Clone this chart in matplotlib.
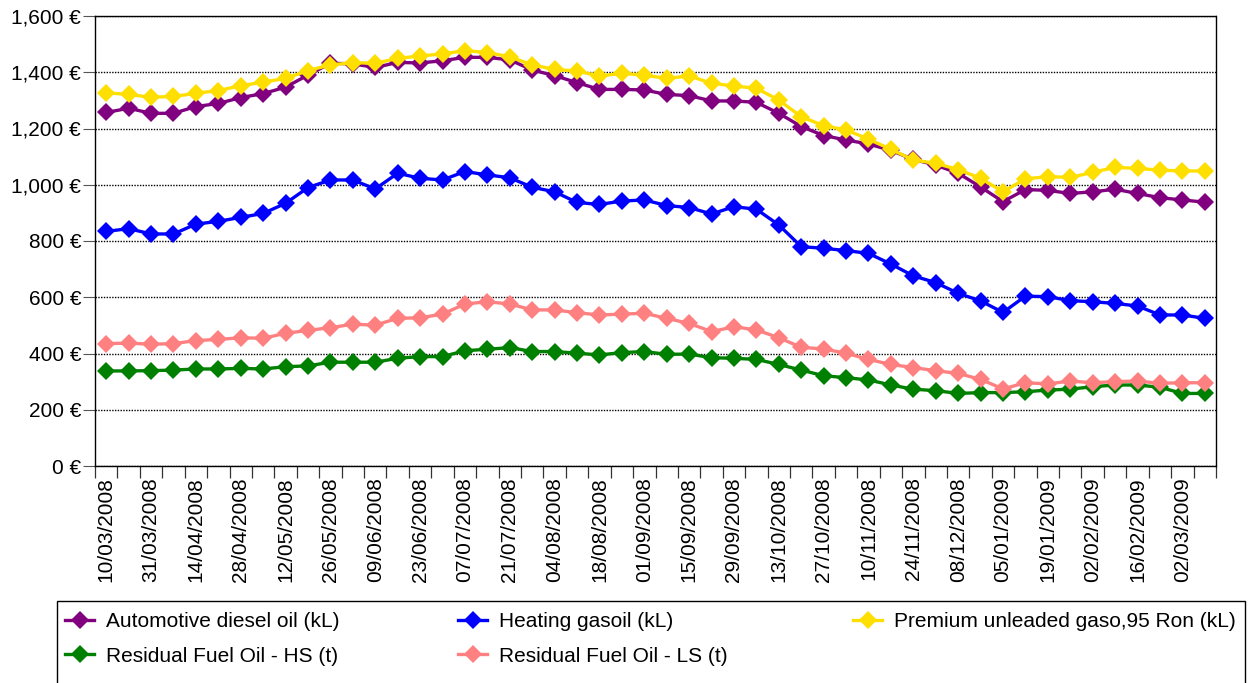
import matplotlib
matplotlib.use('Agg')
import matplotlib.pyplot as plt
from matplotlib.lines import Line2D
from matplotlib.patches import Rectangle
from matplotlib.ticker import FuncFormatter
import numpy as np

plt.rcParams['font.family'] = ['Liberation Sans', 'DejaVu Sans']

# weekly price dates (categories)
dates = ['10/03/2008', '17/03/2008', '31/03/2008', '07/04/2008', '14/04/2008', '21/04/2008',
         '28/04/2008', '05/05/2008', '12/05/2008', '19/05/2008', '26/05/2008', '02/06/2008',
         '09/06/2008', '16/06/2008', '23/06/2008', '30/06/2008', '07/07/2008', '14/07/2008',
         '21/07/2008', '28/07/2008', '04/08/2008', '11/08/2008', '18/08/2008', '25/08/2008',
         '01/09/2008', '08/09/2008', '15/09/2008', '22/09/2008', '29/09/2008', '06/10/2008',
         '13/10/2008', '20/10/2008', '27/10/2008', '03/11/2008', '10/11/2008', '17/11/2008',
         '24/11/2008', '01/12/2008', '08/12/2008', '15/12/2008', '05/01/2009', '12/01/2009',
         '19/01/2009', '26/01/2009', '02/02/2009', '09/02/2009', '16/02/2009', '23/02/2009',
         '02/03/2009', '09/03/2009']

# prices in euro
diesel = [1257, 1272, 1254, 1254, 1278, 1289, 1310, 1324, 1347, 1390,
          1432, 1430, 1417, 1435, 1433, 1441, 1453, 1453, 1444, 1408,
          1388, 1363, 1339, 1339, 1337, 1321, 1317, 1298, 1298, 1293,
          1254, 1207, 1175, 1159, 1145, 1122, 1090, 1070, 1041, 992,
          940, 983, 980, 969, 975, 984, 969, 954, 946, 938]
heating = [834, 844, 825, 825, 860, 870, 884, 898, 934, 990,
           1017, 1017, 985, 1041, 1023, 1017, 1047, 1035, 1025, 991,
           975, 937, 930, 942, 946, 926, 919, 896, 922, 913,
           857, 780, 774, 766, 756, 718, 676, 652, 614, 587,
           546, 604, 602, 588, 584, 578, 569, 537, 537, 525]
premium = [1327, 1321, 1311, 1314, 1325, 1335, 1352, 1365, 1378, 1406,
           1426, 1434, 1432, 1449, 1458, 1465, 1477, 1470, 1455, 1426,
           1410, 1404, 1387, 1396, 1390, 1378, 1387, 1361, 1351, 1343,
           1301, 1242, 1210, 1195, 1162, 1126, 1088, 1076, 1054, 1023,
           975, 1021, 1029, 1026, 1044, 1062, 1058, 1052, 1049, 1049]
fuel_hs = [338, 338, 339, 341, 345, 345, 347, 345, 353, 356,
           369, 369, 369, 383, 389, 389, 410, 415, 421, 407,
           407, 401, 395, 403, 407, 397, 398, 385, 383, 379,
           361, 341, 321, 314, 306, 288, 273, 268, 258, 261,
           261, 264, 270, 273, 282, 288, 288, 280, 258, 258]
fuel_ls = [435, 437, 433, 435, 446, 450, 456, 454, 472, 482,
           492, 504, 501, 525, 527, 540, 576, 584, 576, 555,
           555, 545, 537, 540, 543, 525, 507, 478, 495, 484,
           456, 422, 416, 401, 379, 361, 350, 339, 329, 308,
           274, 296, 292, 302, 296, 300, 302, 294, 296, 296]

series = [
    ('Automotive diesel oil (kL)', diesel, '#800080'),
    ('Heating gasoil (kL)', heating, '#0000FF'),
    ('Premium unleaded gaso,95 Ron (kL)', premium, '#FFDF00'),
    ('Residual Fuel Oil - HS (t)', fuel_hs, '#008000'),
    ('Residual Fuel Oil - LS (t)', fuel_ls, '#FF8080'),
]

W, H = 1251, 683
fig = plt.figure(figsize=(W / 100, H / 100), dpi=100)
ax = fig.add_axes([95 / W, 1 - 466 / H, (1216 - 95) / W, 450 / H])

x = np.arange(len(dates))
handles = {}
for name, values, color in series:
    line, = ax.plot(x, values, color=color, linewidth=2.4, marker='D', markersize=9,
                    markeredgewidth=0, label=name, zorder=3)
    handles[name] = line

# y axis
ax.set_ylim(0, 1600)
ax.set_yticks(range(0, 1601, 200))
ax.yaxis.set_major_formatter(FuncFormatter(lambda v, _: f'{v:,.0f} €'))
ax.tick_params(axis='y', length=9, width=0.8, color='#555555', pad=1, labelsize=15)
ax.yaxis.grid(True, color='black', linestyle=(0, (1, 1)), linewidth=1.0)
ax.set_axisbelow(True)

# x axis: tick marks between categories, labels on every other category
ax.set_xlim(-0.5, len(dates) - 0.5)
ax.set_xticks(np.arange(-0.5, len(dates)))
ax.set_xticklabels([])
ax.tick_params(axis='x', which='major', length=8.6, width=0.9, color='#333333')
ax.set_xticks(x[::2], minor=True)
ax.set_xticklabels(dates[::2], minor=True, rotation=90)
ax.tick_params(axis='x', which='minor', length=0, pad=8, labelsize=15)

for side in ['left', 'right']:
    ax.spines[side].set_linewidth(1.0)
for side in ['top', 'bottom']:
    ax.spines[side].set_linestyle((0, (1, 1)))
    ax.spines[side].set_linewidth(1.0)

# legend: three columns inside one frame
columns = [
    (65, ['Automotive diesel oil (kL)', 'Residual Fuel Oil - HS (t)']),
    (458, ['Heating gasoil (kL)', 'Residual Fuel Oil - LS (t)']),
    (853, ['Premium unleaded gaso,95 Ron (kL)']),
]
for left, names in columns:
    hs = [Line2D([], [], color=handles[n].get_color(), linewidth=2.4, marker='D',
                 markersize=9, markeredgewidth=0) for n in names]
    fig.legend(hs, names, loc='upper left', bbox_to_anchor=(left / W, 1 - 612 / H),
               frameon=False, fontsize=15, borderpad=0, borderaxespad=0,
               handlelength=1.4, handletextpad=0.55, labelspacing=0.75)

fig.patches.append(Rectangle((57 / W, 1 - 700 / H), (1245 - 57) / W, (700 - 601) / H,
                             transform=fig.transFigure, fill=False, edgecolor='black',
                             linewidth=1.0, clip_on=False))

fig.savefig('out.png', dpi=100)
